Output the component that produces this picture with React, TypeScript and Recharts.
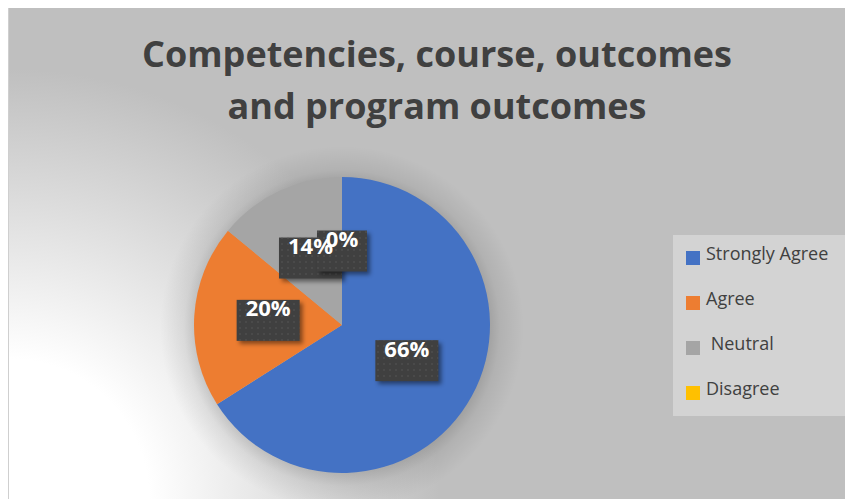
import { PieChart, Pie, Cell, Legend } from "recharts";

const categories = ["Strongly Agree", "Agree", " Neutral", "Disagree"];
const shares = [66, 20, 14, 0];
const sliceColors = ["#4472C4", "#ED7D31", "#A5A5A5", "#FFC000"];

const data = categories.map((name, i) => ({ name, value: shares[i] }));

const RAD = Math.PI / 180;
const CX = 333;
const CY = 318;
const R = 148;

function labelPoint(props: any) {
  const r = props.outerRadius * 0.5;
  return {
    x: props.cx + r * Math.cos(-props.midAngle * RAD),
    y: props.cy + r * Math.sin(-props.midAngle * RAD),
  };
}

function BoxLabel(props: any) {
  const { x, y } = labelPoint(props);
  const text = `${props.value}%`;
  const w = text.length > 2 ? 63 : 50;
  const h = 41;
  return (
    <g>
      {props.index === 0 && (
        <defs>
          <pattern id="dots" width="6" height="6" patternUnits="userSpaceOnUse">
            <circle cx="3" cy="3" r="1" fill="#555" />
          </pattern>
        </defs>
      )}
      <rect
        x={x - w / 2}
        y={y - h / 2}
        width={w}
        height={h}
        fill="#404040"
        style={{ filter: "drop-shadow(3px 3px 2px rgba(0,0,0,0.45))" }}
      />
      <rect x={x - w / 2} y={y - h / 2} width={w} height={h} fill="url(#dots)" opacity={0.6} />
    </g>
  );
}

function TextLabel(props: any) {
  const { x, y } = labelPoint(props);
  return (
    <text
      x={x}
      y={y - 4}
      textAnchor="middle"
      fill="#ffffff"
      fontFamily="'Open Sans', sans-serif"
      fontWeight={700}
      fontSize={22}
    >
      {`${props.value}%`}
    </text>
  );
}

// legend drawn straight from the category/colour lists
function LegendBox() {
  return (
    <div style={{ position: "relative", width: 175, height: 181, background: "#d3d3d3" }}>
      {categories.map((name, i) => {
        const top = 16 + i * 45;
        return (
          <div key={name}>
            <span
              style={{
                position: "absolute",
                left: 13,
                top,
                width: 14,
                height: 14,
                background: sliceColors[i],
              }}
            />
            <span
              style={{
                position: "absolute",
                left: 33,
                top: top - 10,
                lineHeight: "24px",
                fontSize: 18,
                color: "#404040",
                whiteSpace: "pre",
                fontFamily: "'Open Sans', sans-serif",
              }}
            >
              {name}
            </span>
          </div>
        );
      })}
    </div>
  );
}

export default function App() {
  return (
    <div
      style={{
        position: "relative",
        width: 845,
        height: 493,
        marginTop: -2,
        borderLeft: "1px solid #cfcfcf",
        borderTop: "1px solid #e6e6e6",
        boxSizing: "border-box",
        background: `radial-gradient(circle at ${CX}px ${CY + 3}px, rgba(0,0,0,0.16) 0, rgba(0,0,0,0.16) ${R - 2}px, rgba(0,0,0,0.07) ${R + 10}px, rgba(0,0,0,0) ${R + 34}px), radial-gradient(circle at 0% 100%, #ffffff 0, #ffffff 140px, #bfbfbf 430px)`,
        fontFamily: "'Open Sans', sans-serif",
      }}
    >
      <div
        style={{
          position: "absolute",
          left: 0,
          width: 856,
          top: 21,
          textAlign: "center",
          fontSize: 36,
          fontWeight: 700,
          lineHeight: "52px",
          color: "#404040",
        }}
      >
        Competencies, course, outcomes
        <br />
        and program outcomes
      </div>
      <PieChart
        width={844}
        height={492}
        margin={{ top: 0, right: 0, bottom: 0, left: 0 }}
        style={{ position: "absolute", left: 0, top: 0 }}
      >
        <Pie
          data={data}
          dataKey="value"
          nameKey="name"
          cx={CX}
          cy={CY}
          outerRadius={R}
          startAngle={90}
          endAngle={-270}
          stroke="none"
          labelLine={false}
          label={BoxLabel}
          isAnimationActive={false}
        >
          {data.map((_, i) => (
            <Cell key={i} fill={sliceColors[i]} />
          ))}
        </Pie>
        <Pie
          data={data}
          dataKey="value"
          nameKey="name"
          cx={CX}
          cy={CY}
          outerRadius={R}
          startAngle={90}
          endAngle={-270}
          fill="none"
          stroke="none"
          legendType="none"
          labelLine={false}
          label={TextLabel}
          isAnimationActive={false}
        />
        <Legend
          content={<LegendBox />}
          wrapperStyle={{ position: "absolute", left: 664, top: 228, width: 175, height: 181 }}
        />
      </PieChart>
    </div>
  );
}
